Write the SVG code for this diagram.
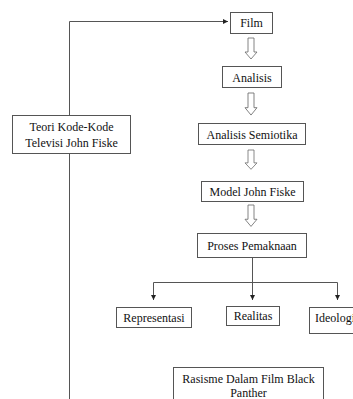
<svg xmlns="http://www.w3.org/2000/svg" width="353" height="399" viewBox="0 0 353 399">
<style>
.box{fill:#fff;stroke:#555;stroke-width:1}
.t{font-family:"Liberation Serif","Times New Roman",serif;font-size:12px;fill:#111;text-anchor:middle}
.ln{fill:none;stroke:#555;stroke-width:1}
.ha{fill:#fff;stroke:#666;stroke-width:0.8}
</style>
<defs>
<marker id="ah" markerWidth="6" markerHeight="6" refX="5" refY="3" orient="auto" markerUnits="userSpaceOnUse">
<path d="M0,0.5 L5,3 L0,5.5 Z" fill="#222"/>
</marker>
<path id="hollow" d="M-3,0 H3 V14 H6 L0,21 L-6,14 H-3 Z"/>
</defs>
<rect width="353" height="399" fill="#fff"/>
<g id="connectors">
<path class="ln" d="M69.5,115 V21.5 H228" marker-end="url(#ah)"/>
<path class="ln" d="M69.5,153 V399"/>
<path class="ln" d="M173,21.5 H182" stroke-width="1.6"/>
<path class="ln" d="M252.5,258 V282.5"/>
<path class="ln" d="M153.5,282.5 H337.5"/>
<path class="ln" d="M153.5,282.5 V300" marker-end="url(#ah)"/>
<path class="ln" d="M252.5,282.5 V300" marker-end="url(#ah)"/>
<path class="ln" d="M337.5,282.5 V300" marker-end="url(#ah)"/>
<use href="#hollow" class="ha" transform="translate(251,38)"/>
<use href="#hollow" class="ha" transform="translate(251,93) scale(1,1.05)"/>
<use href="#hollow" class="ha" transform="translate(251,150) scale(1,0.92)"/>
<use href="#hollow" class="ha" transform="translate(251,205) scale(1,1.02)"/>
</g>
<g id="teori"><rect class="box" x="12.5" y="115.5" width="118" height="38"/><text class="t" x="71.5" y="131">Teori Kode-Kode</text><text class="t" x="71.5" y="146.5">Televisi John Fiske</text></g>
<g id="film"><rect class="box" x="230.5" y="12.5" width="42" height="21"/><text class="t" x="251.5" y="27">Film</text></g>
<g id="analisis"><rect class="box" x="222.5" y="66.5" width="59" height="21"/><text class="t" x="252" y="81.5">Analisis</text></g>
<g id="semiotika"><rect class="box" x="198.5" y="123.5" width="107" height="21"/><text class="t" x="252" y="138.5">Analisis Semiotika</text></g>
<g id="model"><rect class="box" x="201.5" y="181.5" width="102" height="20"/><text class="t" x="252.5" y="196">Model John Fiske</text></g>
<g id="proses"><rect class="box" x="197.5" y="233.5" width="109" height="24"/><text class="t" x="252" y="249.5">Proses Pemaknaan</text></g>
<g id="representasi"><rect class="box" x="116.5" y="307.5" width="75" height="20"/><text class="t" x="154" y="321.5">Representasi</text></g>
<g id="realitas"><rect class="box" x="226.5" y="306.5" width="53" height="19"/><text class="t" x="253" y="320">Realitas</text></g>
<g id="ideologi"><rect class="box" x="309.5" y="307.5" width="52" height="26"/><text class="t" x="315" y="322" style="text-anchor:start">Ideologi</text></g>
<g id="rasisme"><rect class="box" x="173.5" y="367.5" width="150" height="40"/><text class="t" x="248.5" y="382.5">Rasisme Dalam Film Black</text><text class="t" x="248.5" y="397">Panther</text></g>
</svg>
